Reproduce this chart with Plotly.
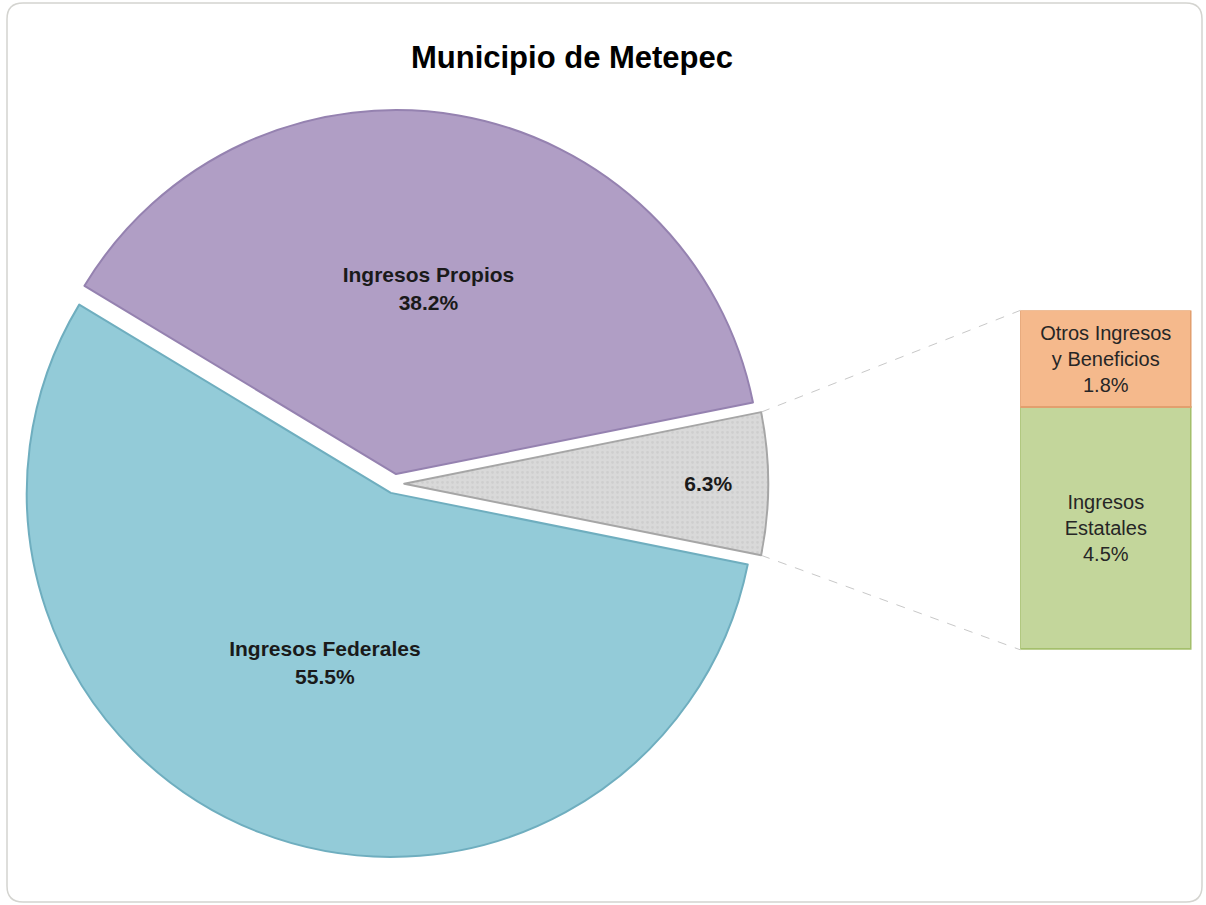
import math
import plotly.graph_objects as go

# Datos (porcentaje del total de ingresos)
pie_labels = ["Otros Ingresos", "Ingresos Propios", "Ingresos Federales"]
pie_values = [6.3, 38.2, 55.5]
pie_colors = ["#D9D9D9", "#B09EC5", "#93CBD8"]
pie_lines = ["#A6A6A6", "#9582B0", "#6FAEBF"]

bar_labels = ["Ingresos<br>Estatales", "Otros Ingresos<br>y Beneficios"]
bar_values = [4.5, 1.8]
bar_colors = ["#C3D69B", "#F5B98C"]
bar_lines = ["#A4BF6C", "#E29F6E"]

W, H = 1206, 905
pie_dom_x = [0.017, 0.637]
pie_dom_y = [0.052, 0.879]
pie_pull = 0.027
bar_dom_x = [0.846, 0.988]
bar_dom_y = [0.282, 0.657]

total = sum(pie_values)
# la rebanada "Otros" queda centrada a las 3 en punto
rotation = 90 - 360 * pie_values[0] / total / 2

fig = go.Figure()

fig.add_trace(
    go.Pie(
        labels=pie_labels,
        values=pie_values,
        sort=False,
        direction="counterclockwise",
        rotation=rotation,
        pull=[pie_pull] * 3,
        domain=dict(x=pie_dom_x, y=pie_dom_y),
        marker=dict(
            colors=pie_colors,
            line=dict(color=pie_lines, width=2),
            pattern=dict(
                shape=[".", "", ""],
                fgcolor="#C4C4C4",
                size=5,
                solidity=0.25,
                fillmode="overlay",
            ),
        ),
        texttemplate=[
            "<b>%{value:.1f}%</b>",
            "<b>%{label}<br>%{value:.1f}%</b>",
            "<b>%{label}<br>%{value:.1f}%</b>",
        ],
        textposition="inside",
        insidetextorientation="horizontal",
        textfont=dict(family="Arial, Liberation Sans", size=21, color="#1A1A1A"),
        showlegend=False,
        hoverinfo="label+percent",
    )
)

# Barra de desglose (apilada)
for lab, val, col, lc in zip(bar_labels, bar_values, bar_colors, bar_lines):
    fig.add_trace(
        go.Bar(
            x=["desglose"],
            y=[val],
            width=1,
            marker=dict(color=col, line=dict(color=lc, width=2)),
            text=[f"{lab}<br>{val:.1f}%"],
            texttemplate="%{text}",
            textposition="inside",
            insidetextanchor="middle",
            textfont=dict(family="Arial, Liberation Sans", size=20, color="#262626"),
            constraintext="none",
            showlegend=False,
            hoverinfo="skip",
        )
    )

# Líneas de conexión entre la rebanada y la barra
r = min(W * (pie_dom_x[1] - pie_dom_x[0]), H * (pie_dom_y[1] - pie_dom_y[0])) / (2 + 2 * pie_pull)
cx = W * (pie_dom_x[0] + pie_dom_x[1]) / 2
cy = H * (1 - (pie_dom_y[0] + pie_dom_y[1]) / 2)
half = math.pi * pie_values[0] / total
gx = cx + pie_pull * r + r * math.cos(half)
shapes = []
for sign, by in [(-1, bar_dom_y[1]), (1, bar_dom_y[0])]:
    gy = cy + sign * r * math.sin(half)
    shapes.append(
        dict(
            type="line",
            xref="paper",
            yref="paper",
            x0=gx / W,
            y0=1 - gy / H,
            x1=bar_dom_x[0],
            y1=by,
            line=dict(color="#C8C8C8", width=1, dash="dash"),
            layer="below",
        )
    )

# Marco redondeado
x0, x1 = 7 / W, 1202 / W
y0, y1 = 1 - 902 / H, 1 - 3 / H
rx, ry = 16 / W, 16 / H
card = (
    f"M {x0 + rx},{y1} L {x1 - rx},{y1} Q {x1},{y1} {x1},{y1 - ry} "
    f"L {x1},{y0 + ry} Q {x1},{y0} {x1 - rx},{y0} "
    f"L {x0 + rx},{y0} Q {x0},{y0} {x0},{y0 + ry} "
    f"L {x0},{y1 - ry} Q {x0},{y1} {x0 + rx},{y1} Z"
)
shapes.append(
    dict(
        type="path",
        xref="paper",
        yref="paper",
        path=card,
        line=dict(color="#D4D4D0", width=1.5),
        layer="below",
    )
)

fig.update_layout(
    width=W,
    height=H,
    margin=dict(l=0, r=0, t=0, b=0),
    paper_bgcolor="white",
    plot_bgcolor="white",
    barmode="stack",
    bargap=0,
    title=dict(
        text="<b>Municipio de Metepec</b>",
        x=572 / W,
        xanchor="center",
        y=1 - 57 / H,
        yanchor="middle",
        font=dict(family="Arial, Liberation Sans", size=31, color="#000000"),
    ),
    xaxis=dict(domain=bar_dom_x, range=[-0.5, 0.5], visible=False, fixedrange=True),
    yaxis=dict(domain=bar_dom_y, range=[0, sum(bar_values)], visible=False, fixedrange=True),
    shapes=shapes,
)

fig.write_html(
    "out.html",
    config={"displayModeBar": False},
    post_script="document.body.style.margin='0';document.body.style.overflow='hidden';",
)
